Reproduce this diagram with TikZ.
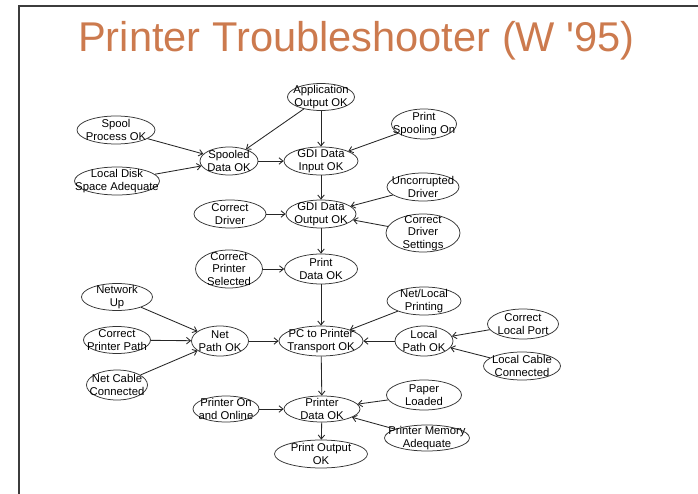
\documentclass[tikz,border=0pt]{standalone}
\usepackage{fontspec}
\setmainfont{Liberation Sans}
\usetikzlibrary{shapes.geometric,arrows.meta}
\definecolor{titlecol}{RGB}{204,122,78}
\definecolor{rimcol}{RGB}{60,60,60}
\tikzset{
  % negative inner sep keeps each ellipse at its given size, text may overhang
  state/.style={ellipse, draw=black!80, line width=0.75bp,
    inner xsep=-16bp, inner ysep=-10bp,
    align=center, font=\fontsize{11.3bp}{12.6bp}\selectfont, text=black},
  link/.style={draw=black!85, line width=0.85bp,
    -{Straight Barb[length=4bp,width=6.5bp]}},
}
\newcommand{\st}[5]{\node[state, minimum width=#3bp, minimum height=#4bp] (#1) at (#2) {#5};}
\begin{document}
\begin{tikzpicture}[x=1bp,y=-1bp]
\useasboundingbox (0,0) rectangle (698,494);
% slide frame
\draw[rimcol, line width=1.4bp] (19,494) -- (19,6) -- (698,6);
% title
\node[anchor=base west, inner sep=0pt, text=titlecol,
  font=\fontsize{41.6bp}{45bp}\selectfont] (title) at (78,52) {Printer Troubleshooter (W \textquotesingle95)};
% states
\st{app}{321,97}{67}{27}{Application\\Output OK}
\st{spoolproc}{116,130}{78}{28}{Spool\\Process OK}
\st{printspool}{424,124}{65}{30}{Print\\Spooling On}
\st{spooled}{229,161}{58}{28}{Spooled\\Data OK}
\st{gdiin}{321,161}{74}{28}{GDI Data\\Input OK}
\st{disk}{117,181}{85}{28}{Local Disk\\Space Adequate}
\st{uncorr}{423,187}{72}{28}{Uncorrupted\\Driver}
\st{cdriver}{230,214}{72}{28}{Correct\\Driver}
\st{gdiout}{321,214}{70}{28}{GDI Data\\Output OK}
\st{settings}{423,233}{74}{38}{Correct\\Driver\\Settings}
\st{selected}{229,269}{67}{38}{Correct\\Printer\\Selected}
\st{printdata}{321,269}{73}{30}{Print\\Data OK}
\st{netup}{117,297}{71}{27}{Network\\Up}
\st{netlocal}{424,301}{74}{28}{Net/Local\\Printing}
\st{localport}{523,324}{71}{30}{Correct\\Local Port}
\st{ppath}{117,340}{67}{27}{Correct\\Printer Path}
\st{netpath}{220,341}{57}{30}{Net\\Path OK}
\st{pc}{321,341}{84}{30}{PC to Printer\\Transport OK}
\st{localpath}{424,341}{58}{30}{Local\\Path OK}
\st{lcable}{522,366}{77}{28}{Local Cable\\Connected}
\st{ncable}{117,385}{61}{30}{Net Cable\\Connected}
\st{paper}{424,395}{75}{30}{Paper\\Loaded}
\st{online}{226,409}{66}{26}{Printer On\\and Online}
\st{pdata}{322,409}{76}{26}{Printer\\Data OK}
\st{memory}{427,438}{85}{26}{Printer Memory\\Adequate}
\st{output}{321,454}{93}{28}{Print Output\\OK}
% dependencies
\draw[link] (app) -- (spooled);
\draw[link] (app) -- (gdiin);
\draw[link] (spoolproc) -- (spooled);
\draw[link] (disk) -- (spooled);
\draw[link] (spooled) -- (gdiin);
\draw[link] (printspool) -- (gdiin);
\draw[link] (gdiin) -- (gdiout);
\draw[link] (cdriver) -- (gdiout);
\draw[link] (uncorr) -- (gdiout);
\draw[link] (settings) -- (gdiout);
\draw[link] (gdiout) -- (printdata);
\draw[link] (selected) -- (printdata);
\draw[link] (printdata) -- (pc);
\draw[link] (netup) -- (netpath);
\draw[link] (ppath) -- (netpath);
\draw[link] (ncable) -- (netpath);
\draw[link] (netpath) -- (pc);
\draw[link] (netlocal) -- (pc);
\draw[link] (localpath) -- (pc);
\draw[link] (localport) -- (localpath);
\draw[link] (lcable) -- (localpath);
\draw[link] (pc) -- (pdata);
\draw[link] (online) -- (pdata);
\draw[link] (paper) -- (pdata);
\draw[link] (memory) -- (pdata);
\draw[link] (pdata) -- (output);
\end{tikzpicture}
\end{document}
